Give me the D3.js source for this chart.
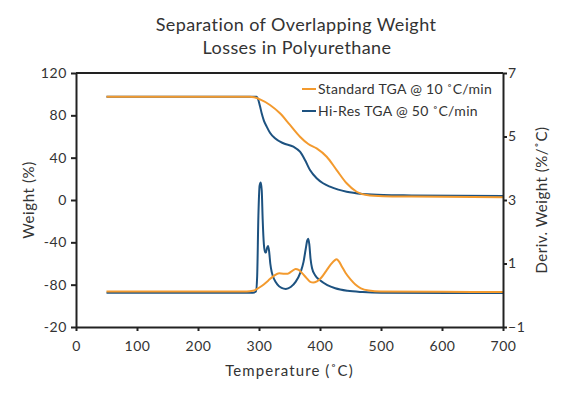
<!DOCTYPE html>
<html>
<head>
<meta charset="utf-8">
<script src="https://cdn.jsdelivr.net/npm/d3@7"></script>
<style>
    body { margin: 0; background: #fff; }
    text { font-family: Lato, "DejaVu Sans", sans-serif; fill: #333; }
</style>
</head>
<body>
<div id="chart-container"></div>
<script>
// Weight curves (left axis, %)
const stdWeightT = [50, 250, 285, 292, 301.6, 318, 334.4, 350.8, 367.2, 380.8, 394.5, 411, 427.3, 443.7, 460, 476.6, 503.8, 550, 700];
const stdWeight = [97.6, 97.6, 97.5, 97.0, 95.1, 89.8, 81.9, 70.9, 59.8, 52.9, 48.8, 40.9, 28.3, 15.8, 7.8, 4.7, 3.6, 3.2, 2.7];

const hiresWeightT = [50, 296, 298.9, 301.5, 304.4, 308, 312.6, 318, 326.2, 339.9, 356.3, 367.2, 375.4, 383.6, 394.5, 405, 416.4, 430, 443.7, 471, 503.8, 550, 700];
const hiresWeight = [97.6, 97.6, 94.5, 89, 81.9, 75, 69.3, 63.5, 58.3, 53.6, 50.4, 45.6, 37.8, 28.3, 20.5, 15.8, 12.6, 9.8, 7.8, 5.7, 4.7, 4.3, 3.7];

// Derivative curves (right axis, %/C)
const stdDerivT = [50, 280, 290, 297, 305, 315, 325, 333, 340, 347, 354, 360, 365, 371, 378, 384, 389, 395, 402, 410, 418, 424, 427, 431, 436, 442, 450, 458, 467, 480, 500, 600, 700];
const stdDeriv = [0.12, 0.12, 0.14, 0.2, 0.3, 0.46, 0.62, 0.69, 0.68, 0.68, 0.76, 0.83, 0.8, 0.69, 0.54, 0.42, 0.4, 0.44, 0.55, 0.76, 0.98, 1.1, 1.13, 1.07, 0.9, 0.7, 0.5, 0.34, 0.22, 0.15, 0.12, 0.11, 0.1];

const hiresDerivT = [50, 290, 295, 297, 299, 301, 302.8, 304.5, 306, 308, 310, 311.5, 313, 314.8, 316.5, 318.5, 321, 325, 330, 337, 344, 352, 360, 368, 373, 376.5, 379, 380.8, 382.5, 384.5, 387, 392, 400, 412, 425, 445, 470, 500, 700];
const hiresDeriv = [0.08, 0.08, 0.12, 0.6, 2.5, 3.45, 3.55, 3.3, 2.4, 1.6, 1.35, 1.35, 1.48, 1.55, 1.4, 1.0, 0.72, 0.5, 0.34, 0.23, 0.2, 0.26, 0.42, 0.72, 1.05, 1.45, 1.72, 1.78, 1.6, 1.15, 0.85, 0.63, 0.47, 0.32, 0.22, 0.14, 0.1, 0.08, 0.07];

// Axis ticks and labels
const xTicks = [0, 100, 200, 300, 400, 500, 600, 700];
const leftTicks = [120, 80, 40, 0, -40, -80, -120];
const leftTickLabels = ["120", "80", "40", "0", "-40", "-80", "-20"];
const rightTicks = [7, 5, 3, 1, -1];

const seriesNames = ["Standard TGA @ 10 ˚C/min", "Hi-Res TGA @ 50 ˚C/min"];
const orange = "#f39a2e";
const blue = "#1d5280";

const W = 569, H = 399;
const margin = { top: 73, right: 66, bottom: 72, left: 76 };
const width = W - margin.left - margin.right;
const height = H - margin.top - margin.bottom;

const svg = d3.select("#chart-container")
    .append("svg")
    .attr("width", W)
    .attr("height", H);

const g = svg.append("g")
    .attr("transform", "translate(" + margin.left + "," + margin.top + ")");

// scales
const x = d3.scaleLinear().domain([0, 700]).range([0, width]);
const yL = d3.scaleLinear().domain([-120, 120]).range([height, 0]);
const yR = d3.scaleLinear().domain([-1, 7]).range([height, 0]);

// title
svg.append("text")
    .attr("x", 296).attr("y", 31)
    .attr("text-anchor", "middle")
    .style("font-size", "18px")
    .style("letter-spacing", "0.4px")
    .text("Separation of Overlapping Weight");
svg.append("text")
    .attr("x", 297).attr("y", 54)
    .attr("text-anchor", "middle")
    .style("font-size", "18px")
    .style("letter-spacing", "0.4px")
    .text("Losses in Polyurethane");

// lines
const zipT = (ts, vs) => ts.map((t, i) => [t, vs[i]]);
const lineL = d3.line().x(d => x(d[0])).y(d => yL(d[1])).curve(d3.curveMonotoneX);
const lineR = d3.line().x(d => x(d[0])).y(d => yR(d[1])).curve(d3.curveMonotoneX);

const curves = [
    { pts: zipT(hiresWeightT, hiresWeight), line: lineL, color: blue },
    { pts: zipT(stdWeightT, stdWeight), line: lineL, color: orange },
    { pts: zipT(hiresDerivT, hiresDeriv), line: lineR, color: blue },
    { pts: zipT(stdDerivT, stdDeriv), line: lineR, color: orange }
];

g.selectAll(".curve")
    .data(curves)
    .enter()
    .append("path")
    .attr("class", "curve")
    .attr("fill", "none")
    .attr("stroke-width", 2)
    .attr("stroke", d => d.color)
    .attr("d", d => d.line(d.pts));

// axes
const styleAxis = sel => {
    sel.select(".domain").attr("stroke", "#222").attr("stroke-width", 2);
    sel.selectAll(".tick line").attr("stroke", "#222").attr("stroke-width", 2);
    sel.selectAll(".tick text").style("font-size", "14px").style("letter-spacing", "0.6px").attr("fill", "#333");
};

g.append("g")
    .attr("transform", "translate(0," + height + ")")
    .call(d3.axisBottom(x).tickValues(xTicks).tickSize(4).tickPadding(10).tickSizeOuter(0))
    .call(styleAxis);

g.append("g")
    .call(d3.axisLeft(yL).tickValues(leftTicks)
        .tickFormat((d, i) => leftTickLabels[i])
        .tickSize(5).tickPadding(4).tickSizeOuter(0))
    .call(styleAxis);

g.append("g")
    .attr("transform", "translate(" + width + ",0)")
    .call(d3.axisRight(yR).tickValues(rightTicks).tickSize(4).tickPadding(1).tickSizeOuter(0))
    .call(styleAxis);

// top border
g.append("line")
    .attr("x1", 0).attr("x2", width)
    .attr("y1", 0).attr("y2", 0)
    .attr("stroke", "#222").attr("stroke-width", 2);

// axis titles
svg.append("text")
    .attr("x", margin.left + width / 2).attr("y", 376)
    .attr("text-anchor", "middle")
    .style("font-size", "15px")
    .style("letter-spacing", "1.1px")
    .text("Temperature (˚C)");

svg.append("text")
    .attr("transform", "translate(34," + (margin.top + height / 2) + ") rotate(-90)")
    .attr("text-anchor", "middle")
    .style("font-size", "15px")
    .style("letter-spacing", "0.6px")
    .text("Weight (%)");

svg.append("text")
    .attr("transform", "translate(547," + (margin.top + height / 2) + ") rotate(-90)")
    .attr("text-anchor", "middle")
    .style("font-size", "15px")
    .style("letter-spacing", "0.5px")
    .text("Deriv. Weight (%/˚C)");

// legend
const legend = svg.selectAll(".legend")
    .data(seriesNames)
    .enter()
    .append("g")
    .attr("class", "legend")
    .attr("transform", (d, i) => "translate(302," + (89 + i * 22) + ")");

legend.append("line")
    .attr("x1", 0).attr("x2", 14)
    .attr("stroke", (d, i) => i === 0 ? orange : blue)
    .attr("stroke-width", 2);

legend.append("text")
    .attr("x", 16).attr("dy", "0.35em")
    .style("font-size", "14px")
    .style("letter-spacing", "0.3px")
    .text(d => d);
</script>
</body>
</html>
